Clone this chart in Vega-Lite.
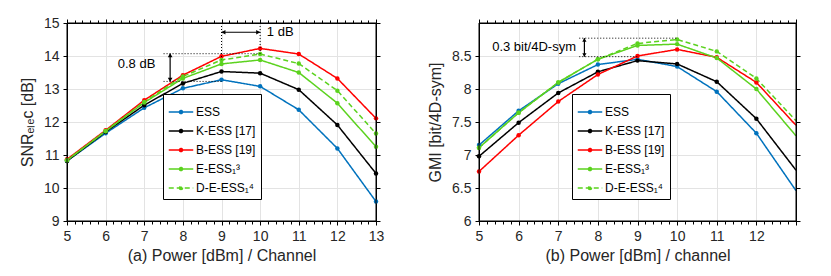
{
"$schema": "https://vega.github.io/schema/vega-lite/v6.json",
"padding": {"left": 18, "top": 15, "right": 5, "bottom": 5},
"spacing": 42,
"config": {
  "view": {"stroke": "#000000", "strokeWidth": 1, "strokeOpacity": 1},
  "font": "Liberation Sans",
  "axis": {"labelFont": "Liberation Sans", "titleFont": "Liberation Sans", "labelFontSize": 14, "titleFontSize": 16, "titleFontWeight": "normal", "labelColor": "#262626", "titleColor": "#262626", "tickColor": "#000000", "tickWidth": 1, "domain": true, "domainColor": "#000000", "domainWidth": 1, "gridColor": "#e3e3e3", "format": "~g"},
  "legend": {"labelFont": "Liberation Sans"}
},
"datasets": {
  "snr": [
    {"s":"ESS","x":5,"y":10.82},{"s":"ESS","x":6,"y":11.66},{"s":"ESS","x":7,"y":12.43},{"s":"ESS","x":8,"y":13.02},{"s":"ESS","x":9,"y":13.28},{"s":"ESS","x":10,"y":13.08},{"s":"ESS","x":11,"y":12.37},{"s":"ESS","x":12,"y":11.2},{"s":"ESS","x":13,"y":9.59},
    {"s":"K-ESS [17]","x":5,"y":10.82},{"s":"K-ESS [17]","x":6,"y":11.7},{"s":"K-ESS [17]","x":7,"y":12.51},{"s":"K-ESS [17]","x":8,"y":13.17},{"s":"K-ESS [17]","x":9,"y":13.53},{"s":"K-ESS [17]","x":10,"y":13.48},{"s":"K-ESS [17]","x":11,"y":12.98},{"s":"K-ESS [17]","x":12,"y":11.91},{"s":"K-ESS [17]","x":13,"y":10.44},
    {"s":"B-ESS [19]","x":5,"y":10.87},{"s":"B-ESS [19]","x":6,"y":11.75},{"s":"B-ESS [19]","x":7,"y":12.66},{"s":"B-ESS [19]","x":8,"y":13.42},{"s":"B-ESS [19]","x":9,"y":13.99},{"s":"B-ESS [19]","x":10,"y":14.23},{"s":"B-ESS [19]","x":11,"y":14.06},{"s":"B-ESS [19]","x":12,"y":13.32},{"s":"B-ESS [19]","x":13,"y":12.11},
    {"s":"E-ESS₁³","x":5,"y":10.84},{"s":"E-ESS₁³","x":6,"y":11.72},{"s":"E-ESS₁³","x":7,"y":12.59},{"s":"E-ESS₁³","x":8,"y":13.32},{"s":"E-ESS₁³","x":9,"y":13.76},{"s":"E-ESS₁³","x":10,"y":13.88},{"s":"E-ESS₁³","x":11,"y":13.5},{"s":"E-ESS₁³","x":12,"y":12.57},{"s":"E-ESS₁³","x":13,"y":11.25},
    {"s":"D-E-ESS₁⁴","x":5,"y":10.84},{"s":"D-E-ESS₁⁴","x":6,"y":11.73},{"s":"D-E-ESS₁⁴","x":7,"y":12.61},{"s":"D-E-ESS₁⁴","x":8,"y":13.38},{"s":"D-E-ESS₁⁴","x":9,"y":13.88},{"s":"D-E-ESS₁⁴","x":10,"y":14.06},{"s":"D-E-ESS₁⁴","x":11,"y":13.77},{"s":"D-E-ESS₁⁴","x":12,"y":12.95},{"s":"D-E-ESS₁⁴","x":13,"y":11.65}
  ],
  "gmi": [
    {"s":"ESS","x":5,"y":7.15},{"s":"ESS","x":6,"y":7.67},{"s":"ESS","x":7,"y":8.08},{"s":"ESS","x":8,"y":8.37},{"s":"ESS","x":9,"y":8.45},{"s":"ESS","x":10,"y":8.34},{"s":"ESS","x":11,"y":7.96},{"s":"ESS","x":12,"y":7.33},{"s":"ESS","x":13,"y":6.46},
    {"s":"K-ESS [17]","x":5,"y":6.98},{"s":"K-ESS [17]","x":6,"y":7.49},{"s":"K-ESS [17]","x":7,"y":7.94},{"s":"K-ESS [17]","x":8,"y":8.26},{"s":"K-ESS [17]","x":9,"y":8.43},{"s":"K-ESS [17]","x":10,"y":8.38},{"s":"K-ESS [17]","x":11,"y":8.11},{"s":"K-ESS [17]","x":12,"y":7.55},{"s":"K-ESS [17]","x":13,"y":6.77},
    {"s":"B-ESS [19]","x":5,"y":6.75},{"s":"B-ESS [19]","x":6,"y":7.3},{"s":"B-ESS [19]","x":7,"y":7.81},{"s":"B-ESS [19]","x":8,"y":8.22},{"s":"B-ESS [19]","x":9,"y":8.5},{"s":"B-ESS [19]","x":10,"y":8.6},{"s":"B-ESS [19]","x":11,"y":8.48},{"s":"B-ESS [19]","x":12,"y":8.1},{"s":"B-ESS [19]","x":13,"y":7.45},
    {"s":"E-ESS₁³","x":5,"y":7.11},{"s":"E-ESS₁³","x":6,"y":7.64},{"s":"E-ESS₁³","x":7,"y":8.1},{"s":"E-ESS₁³","x":8,"y":8.45},{"s":"E-ESS₁³","x":9,"y":8.66},{"s":"E-ESS₁³","x":10,"y":8.68},{"s":"E-ESS₁³","x":11,"y":8.47},{"s":"E-ESS₁³","x":12,"y":8.0},{"s":"E-ESS₁³","x":13,"y":7.29},
    {"s":"D-E-ESS₁⁴","x":5,"y":7.11},{"s":"D-E-ESS₁⁴","x":6,"y":7.64},{"s":"D-E-ESS₁⁴","x":7,"y":8.1},{"s":"D-E-ESS₁⁴","x":8,"y":8.45},{"s":"D-E-ESS₁⁴","x":9,"y":8.69},{"s":"D-E-ESS₁⁴","x":10,"y":8.75},{"s":"D-E-ESS₁⁴","x":11,"y":8.57},{"s":"D-E-ESS₁⁴","x":12,"y":8.16},{"s":"D-E-ESS₁⁴","x":13,"y":7.52}
  ],
  "annA": [
    {"x":9,"x2":9,"y":15,"y2":13.9,"k":"dot"},
    {"x":10,"x2":10,"y":15,"y2":14.07,"k":"dot"},
    {"x":7.5,"x2":10,"y":14.07,"y2":14.07,"k":"dot"},
    {"x":7.5,"x2":9,"y":13.23,"y2":13.23,"k":"dot"},
    {"x":9,"x2":10,"y":14.72,"y2":14.72,"k":"arrow"},
    {"x":7.67,"x2":7.67,"y":13.23,"y2":14.07,"k":"arrow"}
  ],
  "headA": [
    {"x":9.05,"y":14.72,"d":"left"},{"x":9.95,"y":14.72,"d":"right"},
    {"x":7.67,"y":14.02,"d":"up"},{"x":7.67,"y":13.28,"d":"down"}
  ],
  "textA": [
    {"x":10.52,"y":14.72,"t":"1 dB"},
    {"x":6.8,"y":13.76,"t":"0.8 dB"}
  ],
  "frameA": [{"x":5,"x2":13,"y":9,"y2":15}],
  "annB": [
    {"x":7.53,"x2":10,"y":8.77,"y2":8.77,"k":"dot"},
    {"x":7.53,"x2":9,"y":8.49,"y2":8.49,"k":"dot"},
    {"x":7.66,"x2":7.66,"y":8.49,"y2":8.77,"k":"arrow"}
  ],
  "headB": [
    {"x":7.66,"y":8.745,"d":"up"},{"x":7.66,"y":8.515,"d":"down"}
  ],
  "textB": [
    {"x":6.39,"y":8.63,"t":"0.3 bit/4D-sym"}
  ],
  "frameB": [{"x":5,"x2":13,"y":6,"y2":9}]
},
"resolve": {"scale": {"x": "independent", "y": "independent", "color": "independent", "strokeDash": "independent", "shape": "independent"}, "legend": {"color": "independent", "strokeDash": "independent"}},
"hconcat": [
  {
    "width": 309, "height": 198,
    "resolve": {"axis": {"x": "independent", "y": "independent"}},
    "layer": [
      {
        "data": {"name": "snr"},
        "mark": {"type": "line", "strokeWidth": 1.5},
        "encoding": {
          "x": {"field": "x", "type": "quantitative", "scale": {"domain": [5, 13], "nice": false, "zero": false},
            "axis": {"orient": "bottom", "title": "(a) Power [dBm] / Channel", "values": [5,5.2,5.4,5.6,5.8,6,6.2,6.4,6.6,6.8,7,7.2,7.4,7.6,7.8,8,8.2,8.4,8.6,8.8,9,9.2,9.4,9.6,9.8,10,10.2,10.4,10.6,10.8,11,11.2,11.4,11.6,11.8,12,12.2,12.4,12.6,12.8,13],
              "labelExpr": "datum.value % 1 === 0 ? datum.label : ''", "labelOverlap": false, "labelFlush": false, "grid": true, "domain": true, "domainColor": "#000000",
              "gridOpacity": {"condition": {"test": "datum.value % 1 === 0 && datum.value > 5 && datum.value < 13", "value": 1}, "value": 0},
              "tickSize": {"condition": {"test": "datum.value % 1 === 0", "value": 4}, "value": 3},
              "labelPadding": 4, "titlePadding": 4}},
          "y": {"field": "y", "type": "quantitative", "scale": {"domain": [9, 15], "nice": false, "zero": false},
            "axis": {"orient": "left", "title": "SNRₑₗₑc [dB]", "values": [9,10,11,12,13,14,15], "grid": true, "domain": true, "domainColor": "#000000",
              "gridOpacity": {"condition": {"test": "datum.value > 9 && datum.value < 15", "value": 1}, "value": 0},
              "tickSize": 4, "labelPadding": 4, "titlePadding": 8, "labelFlush": false}},
          "color": {"field": "s", "type": "nominal", "sort": null,
            "scale": {"domain": ["ESS","K-ESS [17]","B-ESS [19]","E-ESS₁³","D-E-ESS₁⁴"], "range": ["#0072BD","#000000","#FF0000","#5BD21E","#5BD21E"]},
            "legend": {"title": null, "orient": "none", "legendX": 96, "legendY": 71, "strokeColor": "#000", "fillColor": "#fff", "padding": 5, "labelFontSize": 12, "labelColor": "#000", "symbolType": "M-1,0L1,0M-0.13,0A0.13,0.13,0,1,0,0.13,0A0.13,0.13,0,1,0,-0.13,0", "symbolSize": 600, "symbolStrokeWidth": 1.5, "rowPadding": 0, "labelOffset": 2}},
          "strokeDash": {"field": "s", "type": "nominal", "sort": null,
            "scale": {"domain": ["ESS","K-ESS [17]","B-ESS [19]","E-ESS₁³","D-E-ESS₁⁴"], "range": [[1,0],[1,0],[1,0],[1,0],[5,3]]},
            "legend": {"title": null}}
        }
      },
      {
        "data": {"name": "snr"},
        "mark": {"type": "point", "filled": true, "size": 20, "opacity": 1, "shape": "circle"},
        "encoding": {
          "x": {"field": "x", "type": "quantitative", "axis": null},
          "y": {"field": "y", "type": "quantitative", "axis": null},
          "color": {"field": "s", "type": "nominal", "sort": null, "legend": null}
        }
      },
      {
        "data": {"name": "annA"},
        "transform": [{"filter": "datum.k === 'dot'"}],
        "mark": {"type": "rule", "color": "#000", "strokeWidth": 1, "strokeDash": [1, 2]},
        "encoding": {
          "x": {"field": "x", "type": "quantitative", "axis": {"orient": "top", "title": null, "labels": false, "grid": false, "domain": true, "domainColor": "#000000",
            "values": [5,5.2,5.4,5.6,5.8,6,6.2,6.4,6.6,6.8,7,7.2,7.4,7.6,7.8,8,8.2,8.4,8.6,8.8,9,9.2,9.4,9.6,9.8,10,10.2,10.4,10.6,10.8,11,11.2,11.4,11.6,11.8,12,12.2,12.4,12.6,12.8,13],
            "tickSize": {"condition": {"test": "datum.value % 1 === 0", "value": 4}, "value": 3}}},
          "x2": {"field": "x2"},
          "y": {"field": "y", "type": "quantitative", "axis": {"orient": "right", "title": null, "labels": false, "grid": false, "domain": true, "domainColor": "#000000", "values": [9,10,11,12,13,14,15], "tickSize": 4}},
          "y2": {"field": "y2"}
        }
      },
      {
        "data": {"name": "annA"},
        "transform": [{"filter": "datum.k === 'arrow'"}],
        "mark": {"type": "rule", "color": "#000", "strokeWidth": 1.2},
        "encoding": {
          "x": {"field": "x", "type": "quantitative", "axis": null},
          "x2": {"field": "x2"},
          "y": {"field": "y", "type": "quantitative", "axis": null},
          "y2": {"field": "y2"}
        }
      },
      {
        "data": {"name": "headA"},
        "mark": {"type": "point", "filled": true, "color": "#000", "size": 22, "opacity": 1},
        "encoding": {
          "x": {"field": "x", "type": "quantitative", "axis": null},
          "y": {"field": "y", "type": "quantitative", "axis": null},
          "shape": {"field": "d", "type": "nominal", "legend": null, "scale": {"domain": ["left","right","up","down"], "range": ["triangle-left","triangle-right","triangle-up","triangle-down"]}}
        }
      },
      {
        "data": {"name": "textA"},
        "mark": {"type": "text", "fontSize": 13, "font": "Liberation Sans", "color": "#000", "align": "center", "baseline": "middle"},
        "encoding": {
          "x": {"field": "x", "type": "quantitative", "axis": null},
          "y": {"field": "y", "type": "quantitative", "axis": null},
          "text": {"field": "t"}
        }
      },
      {
        "data": {"name": "frameA"},
        "mark": {"type": "rect", "filled": false, "stroke": "#000000", "strokeWidth": 1, "fillOpacity": 0},
        "encoding": {
          "x": {"field": "x", "type": "quantitative", "axis": null},
          "x2": {"field": "x2"},
          "y": {"field": "y", "type": "quantitative", "axis": null},
          "y2": {"field": "y2"}
        }
      }
    ]
  },
  {
    "width": 317, "height": 198,
    "resolve": {"axis": {"x": "independent", "y": "independent"}},
    "layer": [
      {
        "data": {"name": "gmi"},
        "mark": {"type": "line", "strokeWidth": 1.5, "clip": true},
        "encoding": {
          "x": {"field": "x", "type": "quantitative", "scale": {"domain": [5, 13], "nice": false, "zero": false},
            "axis": {"orient": "bottom", "title": "(b) Power [dBm] / channel", "values": [5,5.2,5.4,5.6,5.8,6,6.2,6.4,6.6,6.8,7,7.2,7.4,7.6,7.8,8,8.2,8.4,8.6,8.8,9,9.2,9.4,9.6,9.8,10,10.2,10.4,10.6,10.8,11,11.2,11.4,11.6,11.8,12,12.2,12.4,12.6,12.8,13],
              "labelExpr": "datum.value % 1 === 0 && datum.value < 13 ? datum.label : ''", "labelOverlap": false, "labelFlush": false, "grid": true, "domain": true, "domainColor": "#000000",
              "gridOpacity": {"condition": {"test": "datum.value % 1 === 0 && datum.value > 5 && datum.value < 13", "value": 1}, "value": 0},
              "tickSize": {"condition": {"test": "datum.value % 1 === 0", "value": 4}, "value": 3},
              "labelPadding": 4, "titlePadding": 4}},
          "y": {"field": "y", "type": "quantitative", "scale": {"domain": [6, 9], "nice": false, "zero": false},
            "axis": {"orient": "left", "title": "GMI [bit/4D-sym]", "values": [6,6.5,7,7.5,8,8.5], "grid": true, "domain": true, "domainColor": "#000000",
              "gridOpacity": {"condition": {"test": "datum.value > 6", "value": 1}, "value": 0},
              "tickSize": 4, "labelPadding": 4, "titlePadding": 8, "labelFlush": false}},
          "color": {"field": "s", "type": "nominal", "sort": null,
            "scale": {"domain": ["ESS","K-ESS [17]","B-ESS [19]","E-ESS₁³","D-E-ESS₁⁴"], "range": ["#0072BD","#000000","#FF0000","#5BD21E","#5BD21E"]},
            "legend": {"title": null, "orient": "none", "legendX": 93, "legendY": 71, "strokeColor": "#000", "fillColor": "#fff", "padding": 5, "labelFontSize": 12, "labelColor": "#000", "symbolType": "M-1,0L1,0M-0.13,0A0.13,0.13,0,1,0,0.13,0A0.13,0.13,0,1,0,-0.13,0", "symbolSize": 600, "symbolStrokeWidth": 1.5, "rowPadding": 0, "labelOffset": 2}},
          "strokeDash": {"field": "s", "type": "nominal", "sort": null,
            "scale": {"domain": ["ESS","K-ESS [17]","B-ESS [19]","E-ESS₁³","D-E-ESS₁⁴"], "range": [[1,0],[1,0],[1,0],[1,0],[5,3]]},
            "legend": {"title": null}}
        }
      },
      {
        "data": {"name": "gmi"},
        "transform": [{"filter": "datum.x <= 12"}],
        "mark": {"type": "point", "filled": true, "size": 20, "opacity": 1, "shape": "circle"},
        "encoding": {
          "x": {"field": "x", "type": "quantitative", "axis": null},
          "y": {"field": "y", "type": "quantitative", "axis": null},
          "color": {"field": "s", "type": "nominal", "sort": null, "legend": null}
        }
      },
      {
        "data": {"name": "annB"},
        "transform": [{"filter": "datum.k === 'dot'"}],
        "mark": {"type": "rule", "color": "#000", "strokeWidth": 1, "strokeDash": [1, 2]},
        "encoding": {
          "x": {"field": "x", "type": "quantitative", "axis": {"orient": "top", "title": null, "labels": false, "grid": false, "domain": true, "domainColor": "#000000",
            "values": [5,5.2,5.4,5.6,5.8,6,6.2,6.4,6.6,6.8,7,7.2,7.4,7.6,7.8,8,8.2,8.4,8.6,8.8,9,9.2,9.4,9.6,9.8,10,10.2,10.4,10.6,10.8,11,11.2,11.4,11.6,11.8,12,12.2,12.4,12.6,12.8,13],
            "tickSize": {"condition": {"test": "datum.value % 1 === 0", "value": 4}, "value": 3}}},
          "x2": {"field": "x2"},
          "y": {"field": "y", "type": "quantitative", "axis": {"orient": "right", "title": null, "labels": false, "grid": false, "domain": true, "domainColor": "#000000", "values": [6,6.5,7,7.5,8,8.5], "tickSize": 4}},
          "y2": {"field": "y2"}
        }
      },
      {
        "data": {"name": "annB"},
        "transform": [{"filter": "datum.k === 'arrow'"}],
        "mark": {"type": "rule", "color": "#000", "strokeWidth": 1.2},
        "encoding": {
          "x": {"field": "x", "type": "quantitative", "axis": null},
          "x2": {"field": "x2"},
          "y": {"field": "y", "type": "quantitative", "axis": null},
          "y2": {"field": "y2"}
        }
      },
      {
        "data": {"name": "headB"},
        "mark": {"type": "point", "filled": true, "color": "#000", "size": 18, "opacity": 1},
        "encoding": {
          "x": {"field": "x", "type": "quantitative", "axis": null},
          "y": {"field": "y", "type": "quantitative", "axis": null},
          "shape": {"field": "d", "type": "nominal", "legend": null, "scale": {"domain": ["left","right","up","down"], "range": ["triangle-left","triangle-right","triangle-up","triangle-down"]}}
        }
      },
      {
        "data": {"name": "textB"},
        "mark": {"type": "text", "fontSize": 13, "font": "Liberation Sans", "color": "#000", "align": "center", "baseline": "middle"},
        "encoding": {
          "x": {"field": "x", "type": "quantitative", "axis": null},
          "y": {"field": "y", "type": "quantitative", "axis": null},
          "text": {"field": "t"}
        }
      },
      {
        "data": {"name": "frameB"},
        "mark": {"type": "rect", "filled": false, "stroke": "#000000", "strokeWidth": 1, "fillOpacity": 0},
        "encoding": {
          "x": {"field": "x", "type": "quantitative", "axis": null},
          "x2": {"field": "x2"},
          "y": {"field": "y", "type": "quantitative", "axis": null},
          "y2": {"field": "y2"}
        }
      }
    ]
  }
]
}
